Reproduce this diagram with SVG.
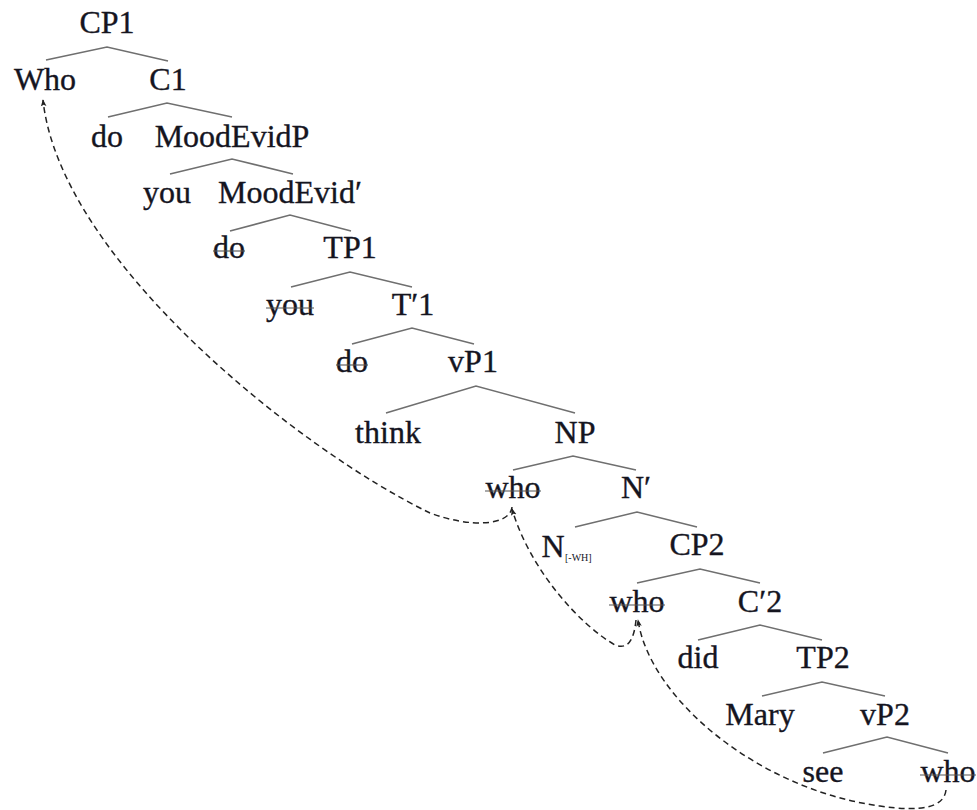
<svg xmlns="http://www.w3.org/2000/svg" width="977" height="810" viewBox="0 0 977 810">
<defs>
<style>
text{font-family:"Liberation Serif","Times New Roman",serif;font-size:32px;fill:#15151f;stroke:#15151f;stroke-width:0.35;text-anchor:middle}
.sub{font-size:10px;text-anchor:start;stroke-width:0}
.st{stroke:#555;stroke-width:1.1}
.br{fill:none;stroke:#6f6f6f;stroke-width:1.6}
.mv{fill:none;stroke:#222;stroke-width:1.5;stroke-dasharray:6 4}
</style>
<marker id="ah" viewBox="0 0 10 10" refX="9" refY="5" markerWidth="7" markerHeight="7" markerUnits="userSpaceOnUse" orient="auto">
<path d="M0,1 L10,5 L0,9 L2,5 Z" fill="#222"/>
</marker>
</defs>
<rect width="977" height="810" fill="#fff"/>
<g id="branches">
<polyline class="br" points="46,60 107,47 168,61"/>
<polyline class="br" points="108,117 167,103 232,117"/>
<polyline class="br" points="170,174 232,159 293,174"/>
<polyline class="br" points="230,231 290,215 351,231"/>
<polyline class="br" points="291,287 350,272 412,287"/>
<polyline class="br" points="352,344 412,328 474,344"/>
<polyline class="br" points="386,413 476,386 575,413"/>
<polyline class="br" points="513,470 573,456 636,470"/>
<polyline class="br" points="575,527 637,512 697,527"/>
<polyline class="br" points="637,583 700,569 760,583"/>
<polyline class="br" points="698,640 760,625 822,640"/>
<polyline class="br" points="762,696 822,682 885,696"/>
<polyline class="br" points="823,753 887,737 948,753"/>
</g>
<g id="connectors">
<path class="mv" marker-end="url(#ah)" d="M512,507 C510,526 470,528 430,513 C300,450 60,260 43,100"/>
<path class="mv" marker-end="url(#ah)" d="M636,620 C634,640 628,650 615,645 C580,625 530,570 512,509"/>
<path class="mv" marker-end="url(#ah)" d="M946,790 C944,808 920,812 880,806 C760,790 650,700 638,620"/>
</g>
<g id="CP1"><text x="107" y="33">CP1</text></g>
<g id="Who"><text x="45" y="90">Who</text></g>
<g id="C1"><text x="168" y="90">C1</text></g>
<g id="do1"><text x="107" y="147">do</text></g>
<g id="MoodEvidP"><text x="232" y="147">MoodEvidP</text></g>
<g id="you1"><text x="167" y="203">you</text></g>
<g id="MoodEvidBar"><text x="290" y="203">MoodEvid′</text></g>
<g id="do2"><text x="229" y="258">do</text><line class="st" x1="213" y1="251" x2="245" y2="251"/></g>
<g id="TP1"><text x="350" y="258">TP1</text></g>
<g id="you2"><text x="290" y="315">you</text><line class="st" x1="266" y1="308" x2="314" y2="308"/></g>
<g id="TBar1"><text x="413" y="315">T′1</text></g>
<g id="do3"><text x="352" y="372">do</text><line class="st" x1="336" y1="365" x2="368" y2="365"/></g>
<g id="vP1"><text x="473" y="372">vP1</text></g>
<g id="think"><text x="388" y="443">think</text></g>
<g id="NP"><text x="575" y="443">NP</text></g>
<g id="who1"><text x="513" y="498">who</text><line class="st" x1="485" y1="491" x2="541" y2="491"/></g>
<g id="NBar"><text x="636" y="498">N′</text></g>
<g id="Nwh"><text x="553" y="557">N</text><text class="sub" x="565" y="561">[-WH]</text></g>
<g id="CP2"><text x="697" y="555">CP2</text></g>
<g id="who2"><text x="637" y="612">who</text><line class="st" x1="609" y1="605" x2="665" y2="605"/></g>
<g id="CBar2"><text x="760" y="612">C′2</text></g>
<g id="did"><text x="698" y="668">did</text></g>
<g id="TP2"><text x="823" y="668">TP2</text></g>
<g id="Mary"><text x="760" y="725">Mary</text></g>
<g id="vP2"><text x="885" y="725">vP2</text></g>
<g id="see"><text x="823" y="782">see</text></g>
<g id="who3"><text x="948" y="782">who</text><line class="st" x1="920" y1="775" x2="976" y2="775"/></g>
</svg>
